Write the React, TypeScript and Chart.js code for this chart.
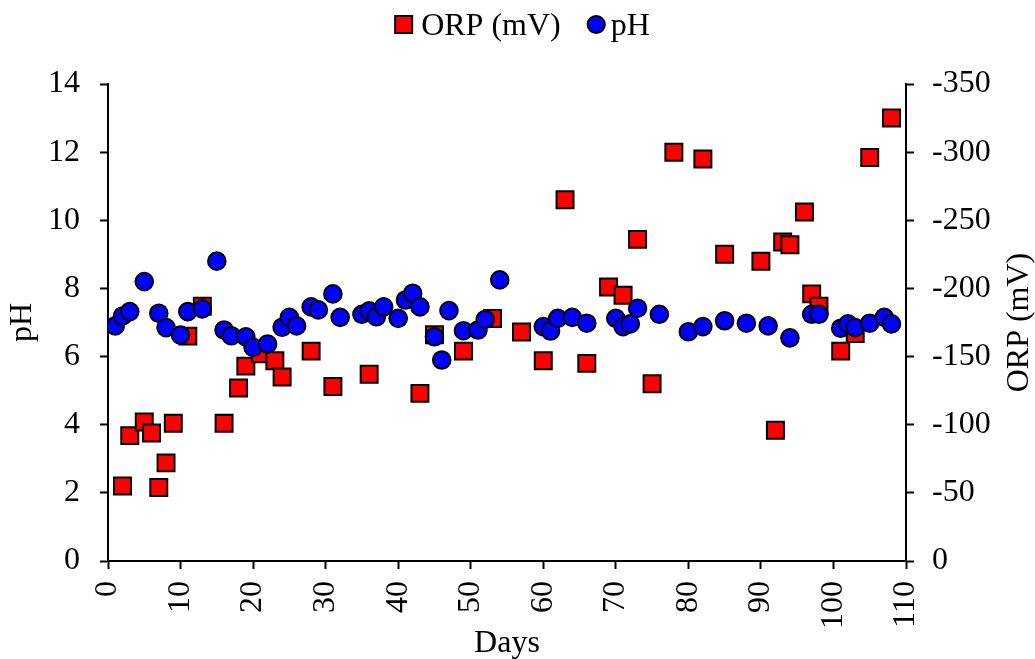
import React, { useEffect, useRef } from "react";
import { Chart, registerables } from "chart.js";

Chart.register(...registerables);

// ---- Data ----
const phDays = [1, 2, 3, 5, 7, 8, 10, 11, 13, 15, 16, 17, 19, 20, 22, 24, 25, 26, 28, 29, 31, 32, 35, 36, 37, 38, 40, 41, 42, 43, 45, 46, 47, 49, 51, 52, 54, 60, 61, 62, 64, 66, 70, 71, 72, 73, 76, 80, 82, 85, 88, 91, 94, 97, 98, 101, 102, 103, 105, 107, 108];
const phValues = [6.9, 7.19, 7.32, 8.2, 7.27, 6.85, 6.63, 7.32, 7.4, 8.8, 6.78, 6.61, 6.58, 6.27, 6.37, 6.86, 7.15, 6.9, 7.46, 7.37, 7.84, 7.15, 7.24, 7.34, 7.17, 7.46, 7.12, 7.66, 7.86, 7.46, 6.58, 5.9, 7.35, 6.76, 6.78, 7.09, 8.25, 6.88, 6.75, 7.12, 7.15, 6.98, 7.12, 6.88, 6.96, 7.42, 7.24, 6.73, 6.88, 7.05, 6.98, 6.9, 6.55, 7.24, 7.24, 6.83, 6.96, 6.85, 6.98, 7.15, 6.96];

const orpDays = [2, 3, 5, 6, 7, 8, 9, 11, 13, 16, 18, 19, 21, 23, 24, 28, 31, 36, 43, 45, 49, 53, 57, 60, 63, 66, 69, 71, 73, 75, 78, 82, 85, 90, 92, 93, 94, 96, 97, 98, 101, 103, 105, 108];
const orpValues = [-55, -92, -102, -94, -54, -72, -101, -165, -187, -101, -127, -143, -152, -147, -135, -154, -128, -137, -123, -166, -154, -178, -168, -147, -265, -145, -201, -195, -236, -130, -300, -295, -225, -220, -96, -234, -232, -256, -196, -187, -154, -167, -296, -325];

const seriesLabels = ["ORP (mV)", "pH"];
const axisTitles = { x: "Days", yLeft: "pH", yRight: "ORP (mV)" };

const RED = "#FF0000";
const BLUE = "#0000FF";
const FONT = "Liberation Serif";
const FS = 32;

const legendAndTitlePlugin = {
  id: "customLegendAndTitle",
  afterDraw(chart: any) {
    const ctx = chart.ctx;
    const area = chart.chartArea;
    const ds = chart.data.datasets;
    ctx.save();
    ctx.font = `${FS}px "${FONT}"`;
    const t1 = ds[0].label;
    const t2 = ds[1].label;
    const w1 = ctx.measureText(t1).width;
    const w2 = ctx.measureText(t2).width;
    const total = 19 + 8 + w1 + 26 + 19 + 5 + w2;
    let x = 522 - total / 2;
    const cy = 24.5;
    const base = 35;
    // square marker
    ctx.lineWidth = 2;
    ctx.strokeStyle = "#000";
    ctx.fillStyle = ds[0].backgroundColor;
    ctx.beginPath();
    ctx.rect(x + 1, cy - 8.5, 17, 17);
    ctx.fill();
    ctx.stroke();
    x += 19 + 8;
    ctx.fillStyle = "#000";
    ctx.textAlign = "left";
    ctx.textBaseline = "alphabetic";
    ctx.fillText(t1, x, base);
    x += w1 + 26;
    // circle marker
    ctx.fillStyle = ds[1].backgroundColor;
    ctx.beginPath();
    ctx.arc(x + 9.5, cy, 8.6, 0, Math.PI * 2);
    ctx.fill();
    ctx.stroke();
    x += 19 + 5;
    ctx.fillStyle = "#000";
    ctx.fillText(t2, x, base);

    // right axis title (reads bottom-to-top)
    ctx.translate(1028, (area.top + area.bottom) / 2);
    ctx.rotate(-Math.PI / 2);
    ctx.textAlign = "center";
    ctx.textBaseline = "alphabetic";
    ctx.fillText(axisTitles.yRight, 0, 0);
    ctx.restore();
  },
};

export default function App() {
  const canvasRef = useRef<HTMLCanvasElement | null>(null);

  useEffect(() => {
    if (!canvasRef.current) return;
    Chart.defaults.font.family = FONT;
    Chart.defaults.color = "#000";

    const tickFont = { family: FONT, size: FS };
    const titleFont = { family: FONT, size: FS, lineHeight: 1 };
    const gridOpts = {
      display: true,
      drawOnChartArea: false,
      drawTicks: true,
      tickLength: 8,
      tickWidth: 2,
      tickColor: "#000",
    };
    const borderOpts = { display: true, color: "#000", width: 2 };

    const chart = new Chart(canvasRef.current, {
      type: "scatter",
      data: {
        datasets: [
          {
            label: seriesLabels[0],
            data: orpDays.map((d, i) => ({ x: d, y: orpValues[i] })),
            yAxisID: "y1",
            pointStyle: "rect",
            pointRadius: 12,
            pointHoverRadius: 12,
            backgroundColor: RED,
            borderColor: "#000",
            borderWidth: 2,
            order: 1,
          },
          {
            label: seriesLabels[1],
            data: phDays.map((d, i) => ({ x: d, y: phValues[i] })),
            yAxisID: "y",
            pointStyle: "circle",
            pointRadius: 8.8,
            pointHoverRadius: 8.8,
            backgroundColor: BLUE,
            borderColor: "#000",
            borderWidth: 2,
            order: 0,
          },
        ],
      },
      options: {
        responsive: false,
        animation: false,
        layout: { padding: { top: 84, left: 0, right: 0, bottom: 0 } },
        plugins: {
          legend: { display: false },
          tooltip: { enabled: false },
        },
        scales: {
          x: {
            type: "linear",
            position: "bottom",
            min: 0,
            max: 110,
            ticks: {
              stepSize: 10,
              minRotation: 90,
              maxRotation: 90,
              autoSkip: false,
              font: tickFont,
              color: "#000",
              padding: 12,
            },
            grid: gridOpts,
            border: borderOpts,
            title: {
              display: true,
              text: axisTitles.x,
              font: titleFont,
              color: "#000",
              padding: { top: 0, bottom: -1 },
            },
            afterFit: (s: any) => {
              s.height = 98;
            },
          },
          y: {
            type: "linear",
            position: "left",
            min: 0,
            max: 14,
            ticks: { stepSize: 2, font: tickFont, color: "#000", padding: 20 },
            grid: gridOpts,
            border: borderOpts,
            title: {
              display: true,
              text: axisTitles.yLeft,
              font: titleFont,
              color: "#000",
              padding: { top: 7, bottom: 0 },
            },
            afterFit: (s: any) => {
              s.width = 108;
            },
          },
          y1: {
            type: "linear",
            position: "right",
            min: -350,
            max: 0,
            reverse: true,
            ticks: { stepSize: 50, font: tickFont, color: "#000", padding: 18 },
            grid: gridOpts,
            border: borderOpts,
            title: { display: false },
            afterFit: (s: any) => {
              s.width = 129;
            },
          },
        },
      },
      plugins: [legendAndTitlePlugin],
    } as any);

    return () => chart.destroy();
  }, []);

  return (
    <canvas
      ref={canvasRef}
      width={1035}
      height={659}
      style={{ position: "fixed", left: 0, top: 0, width: 1035, height: 659, display: "block" }}
    />
  );
}
